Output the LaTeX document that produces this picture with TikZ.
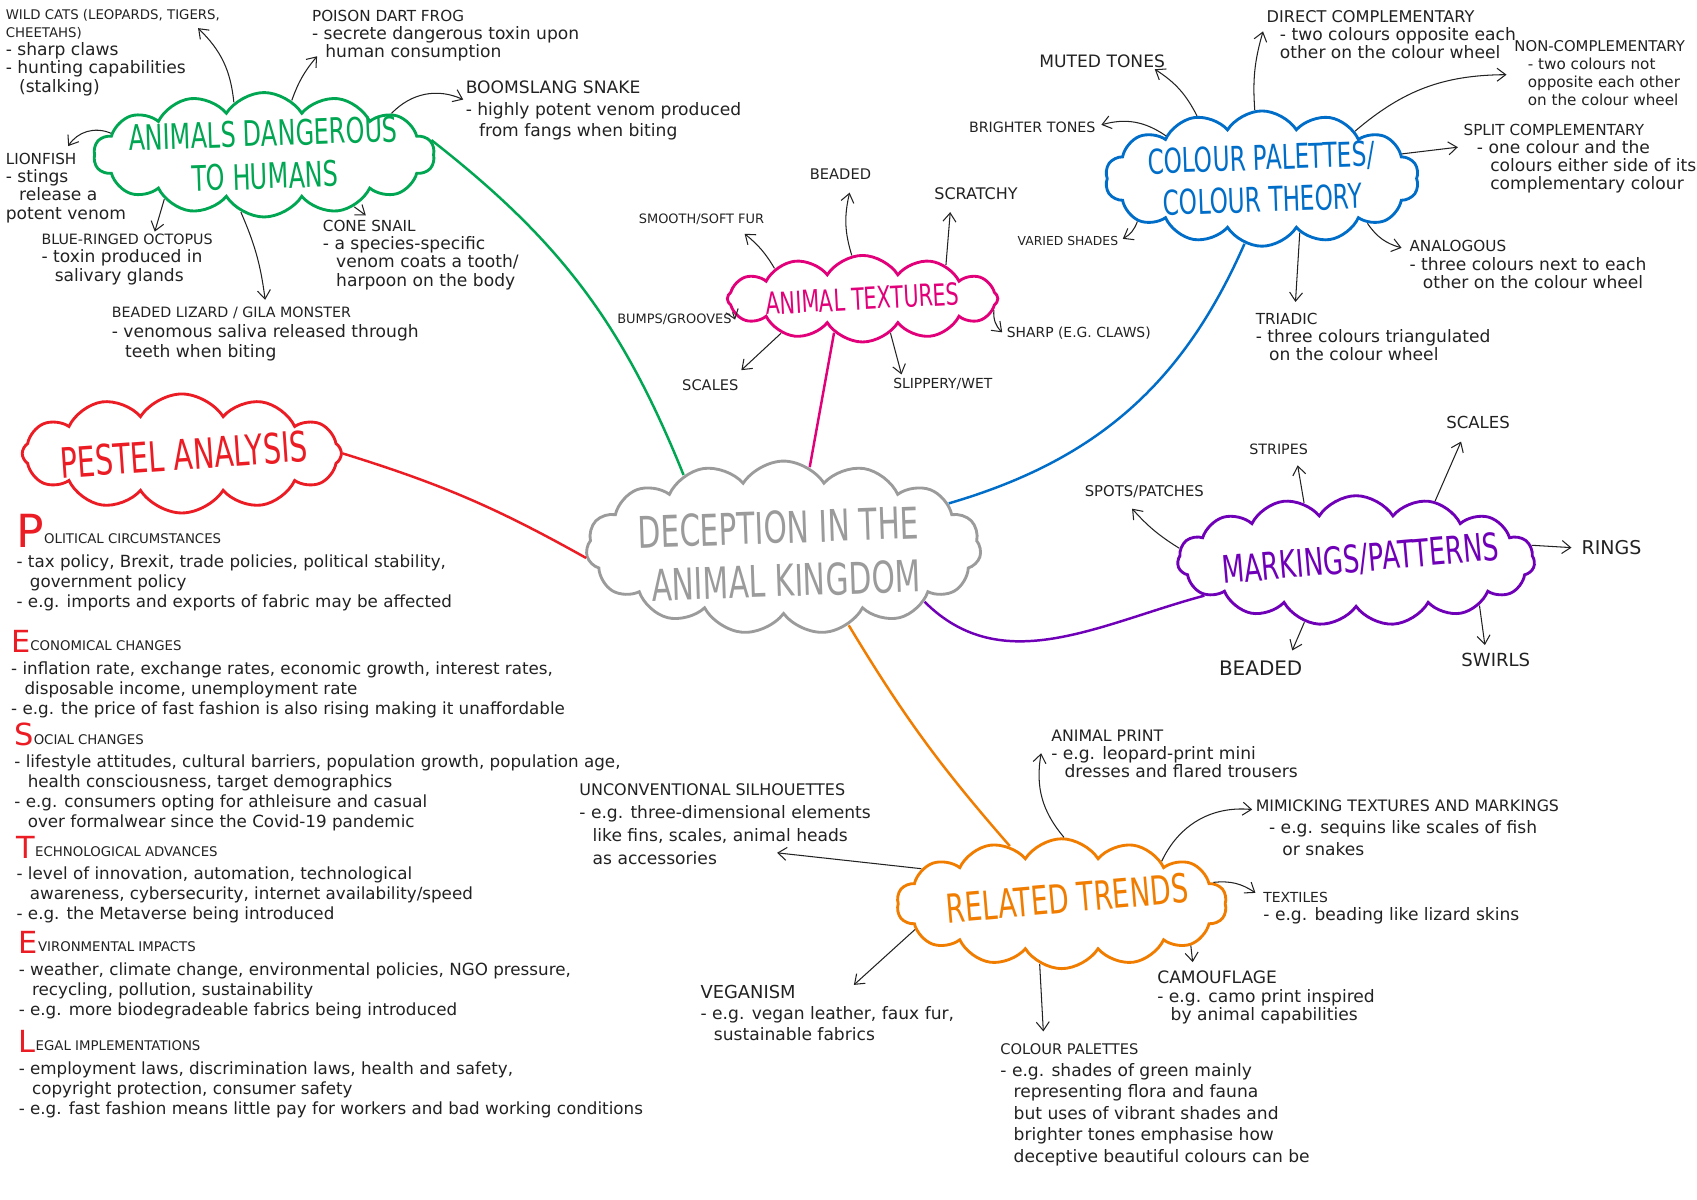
\documentclass[tikz,border=0pt]{standalone}
\usepackage{fontspec}
\setmainfont{DejaVu Sans}
\usepackage{tikz}
\usetikzlibrary{shapes.symbols, arrows.meta, calc}
\usepackage{xcolor}
\definecolor{inkgrey}{RGB}{34,34,34}
\definecolor{kingdomgrey}{RGB}{155,155,155}
\definecolor{dangergreen}{RGB}{0,166,81}
\definecolor{texturepink}{RGB}{226,0,122}
\definecolor{paletteblue}{RGB}{0,110,200}
\definecolor{markingpurple}{RGB}{112,0,184}
\definecolor{pestelred}{RGB}{236,28,36}
\definecolor{trendorange}{RGB}{240,125,0}

\newcommand{\hcap}[2][8]{{\fontsize{#1}{9.6}\selectfont #2}}
\newcommand{\ind}{\hspace*{7pt}}
\newcommand{\bigletter}[3]{\raisebox{-#2pt}{\color{pestelred}\fontsize{#1}{#1}\selectfont #3}}

\begin{document}
\begin{tikzpicture}[
  x=0.02cm, y=-0.02cm,
  bubble/.style={cloud, cloud puffs=14, cloud puff arc=115, cloud ignores aspect, draw=#1, line width=1.5pt, inner sep=0pt},
  cloudtext/.style n args={2}{rotate=#2, xscale=0.68, text=#1, align=center, inner sep=0pt},
  leaf/.style={anchor=north west, align=left, inner sep=0pt, text=inkgrey, font=\fontsize{9}{9.6}\selectfont},
  word/.style={anchor=north west, inner sep=0pt, text=inkgrey, font=\fontsize{#1}{#1}\selectfont},
  pestelblock/.style={anchor=north west, align=left, inner sep=0pt, text=inkgrey, font=\fontsize{8.8}{10.5}\selectfont},
  branch/.style={line width=1.3pt, draw=#1},
  twig/.style={-{Straight Barb[length=1.6mm, width=2.4mm]}, line width=0.55pt, inkgrey}
]
\useasboundingbox (0,0) rectangle (1568,1108);
\fill[white] (0,0) rectangle (1568,1108);

% Core Nodes
\node[bubble=kingdomgrey, cloud puffs=15, minimum width=7.3cm, minimum height=3.2cm] (deception) at (724,506) {};
\node[cloudtext={kingdomgrey}{2}, align=right, font=\fontsize{23}{28}\selectfont] (deceptionT) at ($(deception.center)+(-4,6)$) {DECEPTION IN THE\\ANIMAL KINGDOM};

\node[bubble=dangergreen, minimum width=6.3cm, minimum height=2.3cm] (danger) at (244,143) {};
\node[cloudtext={dangergreen}{2}, font=\fontsize{18.5}{22.5}\selectfont] (dangerT) at (danger.center) {ANIMALS DANGEROUS\\TO HUMANS};

\node[bubble=texturepink, cloud puffs=12, minimum width=5.0cm, minimum height=1.6cm] (textures) at (797,276) {};
\node[cloudtext={texturepink}{3}, font=\fontsize{16}{16}\selectfont] (texturesT) at (textures.center) {ANIMAL TEXTURES};

\node[bubble=paletteblue, minimum width=5.8cm, minimum height=2.5cm] (palettes) at (1166,165) {};
\node[cloudtext={paletteblue}{2}, font=\fontsize{18}{22}\selectfont] (palettesT) at (palettes.center) {COLOUR PALETTES/\\COLOUR THEORY};

\node[bubble=markingpurple, cloud puffs=15, minimum width=6.6cm, minimum height=2.4cm] (markings) at (1253,518) {};
\node[cloudtext={markingpurple}{5}, font=\fontsize{20}{20}\selectfont] (markingsT) at ($(markings.center)+(4,-1)$) {MARKINGS/PATTERNS};

\node[bubble=pestelred, cloud puffs=12, minimum width=5.9cm, minimum height=2.2cm] (pestel) at (168,419) {};
\node[cloudtext={pestelred}{4}, font=\fontsize{22}{22}\selectfont] (pestelT) at ($(pestel.center)+(2,1)$) {PESTEL ANALYSIS};

\node[bubble=trendorange, minimum width=6.1cm, minimum height=2.4cm] (trends) at (981,835) {};
\node[cloudtext={trendorange}{5}, font=\fontsize{21}{21}\selectfont] (trendsT) at ($(trends.center)+(5,-5)$) {RELATED TRENDS};

% Branch 1: Animals dangerous to humans
\node[leaf] (wildcats) at (5,8) {\hcap[7]{WILD CATS (LEOPARDS, TIGERS,}\\\hcap[7]{CHEETAHS)}\\- sharp claws\\- hunting capabilities\\\ind(stalking)};
\node[leaf] (poisonfrog) at (288,9) {\hcap{POISON DART FROG}\\- secrete dangerous toxin upon\\\ind human consumption};
\node[leaf, font=\fontsize{9}{11.5}\selectfont] (boomslang) at (430,74) {\hcap[9]{BOOMSLANG SNAKE}\\- highly potent venom produced\\\ind from fangs when biting};
\node[leaf] (lionfish) at (5,141) {\hcap{LIONFISH}\\- stings\\\ind release a\\potent venom};
\node[leaf] (octopus) at (38,216) {\hcap[7.5]{BLUE-RINGED OCTOPUS}\\- toxin produced in\\\ind salivary glands};
\node[leaf, font=\fontsize{9}{10.5}\selectfont] (gilamonster) at (103,283) {\hcap[7.5]{BEADED LIZARD / GILA MONSTER}\\- venomous saliva released through\\\ind teeth when biting};
\node[leaf] (conesnail) at (298,203) {\hcap{CONE SNAIL}\\- a species-specific\\\ind venom coats a tooth/\\\ind harpoon on the body};

% Branch 2: Animal textures
\node[word=7.7] (beadedT) at (748,156) {BEADED};
\node[word=6.8] (smoothfur) at (590,197) {SMOOTH/SOFT FUR};
\node[word=8.4] (scratchy) at (863,173) {SCRATCHY};
\node[word=6.8] (bumps) at (570,290) {BUMPS/GROOVES};
\node[word=7.7] (scalesT) at (630,350) {SCALES};
\node[word=7.3] (slippery) at (825,349) {SLIPPERY/WET};
\node[word=7.3] (sharp) at (930,302) {SHARP (E.G. CLAWS)};

% Branch 3: Colour palettes
\node[word=9] (mutedtones) at (960,50) {MUTED TONES};
\node[leaf] (direct) at (1170,9) {\hcap[8.5]{DIRECT COMPLEMENTARY}\\\ind- two colours opposite each\\\ind other on the colour wheel};
\node[leaf, font=\fontsize{8}{9.4}\selectfont] (noncomp) at (1399,37) {\hcap[7.8]{NON-COMPLEMENTARY}\\\ind- two colours not\\\ind opposite each other\\\ind on the colour wheel};
\node[word=7.5] (brighter) at (895,112) {BRIGHTER TONES};
\node[leaf] (split) at (1352,114) {\hcap{SPLIT COMPLEMENTARY}\\\ind- one colour and the\\\ind\ind colours either side of its\\\ind\ind complementary colour};
\node[word=6.5] (varied) at (940,218) {VARIED SHADES};
\node[leaf] (analogous) at (1302,222) {\hcap{ANALOGOUS}\\- three colours next to each\\\ind other on the colour wheel};
\node[leaf] (triadic) at (1160,289) {\hcap{TRIADIC}\\- three colours triangulated\\\ind on the colour wheel};

% Branch 4: Markings/patterns
\node[word=7.8] (spots) at (1002,448) {SPOTS/PATCHES};
\node[word=7.5] (stripes) at (1154,410) {STRIPES};
\node[word=8.7] (scalesM) at (1336,384) {SCALES};
\node[word=10] (rings) at (1461,499) {RINGS};
\node[word=10.5] (beadedM) at (1126,610) {BEADED};
\node[word=9.5] (swirls) at (1350,603) {SWIRLS};

% Branch 5: Related trends
\node[leaf] (animalprint) at (971,674) {\hcap[8.3]{ANIMAL PRINT}\\- e.g. leopard-print mini\\\ind dresses and flared trousers};
\node[leaf, font=\fontsize{9}{11.5}\selectfont] (mimicking) at (1160,739) {\hcap[8.3]{MIMICKING TEXTURES AND MARKINGS}\\\ind- e.g. sequins like scales of fish\\\ind\ind or snakes};
\node[leaf, font=\fontsize{9}{12}\selectfont] (uncon) at (535,724) {\hcap[8.4]{UNCONVENTIONAL SILHOUETTES}\\- e.g. three-dimensional elements\\\ind like fins, scales, animal heads\\\ind as accessories};
\node[leaf] (textiles) at (1167,824) {\hcap[7.3]{TEXTILES}\\- e.g. beading like lizard skins};
\node[leaf] (camouflage) at (1069,897) {\hcap[9]{CAMOUFLAGE}\\- e.g. camo print inspired\\\ind by animal capabilities};
\node[leaf, font=\fontsize{9}{11}\selectfont] (veganism) at (647,910) {\hcap[9.4]{VEGANISM}\\- e.g. vegan leather, faux fur,\\\ind sustainable fabrics};
\node[leaf, font=\fontsize{9}{11.3}\selectfont] (colourpal) at (924,964) {\hcap[7.7]{COLOUR PALETTES}\\- e.g. shades of green mainly\\\ind representing flora and fauna\\\ind but uses of vibrant shades and\\\ind brighter tones emphasise how\\\ind deceptive beautiful colours can be};

% Branch 6: PESTEL analysis
\node[pestelblock] (political) at (15,475) {\bigletter{24}{2}{P}\hcap[7]{OLITICAL CIRCUMSTANCES}\\[2pt]- tax policy, Brexit, trade policies, political stability,\\\ind government policy\\- e.g. imports and exports of fabric may be affected};
\node[pestelblock] (economical) at (10,582) {\bigletter{16}{1}{E}\hcap[7]{CONOMICAL CHANGES}\\[2pt]- inflation rate, exchange rates, economic growth, interest rates,\\\ind disposable income, unemployment rate\\- e.g. the price of fast fashion is also rising making it unaffordable};
\node[pestelblock] (social) at (13,668) {\bigletter{16}{1}{S}\hcap[7]{OCIAL CHANGES}\\[2pt]- lifestyle attitudes, cultural barriers, population growth, population age,\\\ind health consciousness, target demographics\\- e.g. consumers opting for athleisure and casual\\\ind over formalwear since the Covid-19 pandemic};
\node[pestelblock] (technological) at (15,772) {\bigletter{16}{1}{T}\hcap[7]{ECHNOLOGICAL ADVANCES}\\[2pt]- level of innovation, automation, technological\\\ind awareness, cybersecurity, internet availability/speed\\- e.g. the Metaverse being introduced};
\node[pestelblock] (environmental) at (17,860) {\bigletter{16}{1}{E}\hcap[7]{VIRONMENTAL IMPACTS}\\[2pt]- weather, climate change, environmental policies, NGO pressure,\\\ind recycling, pollution, sustainability\\- e.g. more biodegradeable fabrics being introduced};
\node[pestelblock] (legal) at (17,952) {\bigletter{16}{1}{L}\hcap[7]{EGAL IMPLEMENTATIONS}\\[2pt]- employment laws, discrimination laws, health and safety,\\\ind copyright protection, consumer safety\\- e.g. fast fashion means little pay for workers and bad working conditions};

% Main branches
\draw[branch=dangergreen] (danger.5) to[bend left=15] (deception.144);
\draw[branch=texturepink] (textures.-130) -- (deception.72);
\draw[branch=paletteblue] (palettes.-105) to[bend left=25] (deception.15);
\draw[branch=pestelred] (pestel.east) to[bend left=6] (deception.183);
\draw[branch=markingpurple] (deception.-21) to[out=-45, in=195] (markings.193);
\draw[branch=trendorange] (deception.-50) to[bend right=5] (trends.132);

% Arrows: animals dangerous to humans
\draw[twig] (danger.120) to[bend right=20] ($(wildcats.north west)+(178,18)$);
\draw[twig] (danger.63) to[bend left=10] ($(poisonfrog.north west)+(5,43)$);
\draw[twig] (danger.18) to[bend left=35] ($(boomslang.north west)+(-2,18)$);
\draw[twig] (danger.172) to[bend right=40] ($(lionfish.north west)+(58,-6)$);
\draw[twig] (danger.-156) -- ($(octopus.north west)+(105,-2)$);
\draw[twig] (danger.-112) to[bend left=8] ($(gilamonster.north west)+(142,-6)$);
\draw[twig] (danger.-30) -- ($(conesnail.north west)+(40,-4)$);

% Arrows: animal textures
\draw[twig] (textures.104) to[bend left=15] ($(beadedT.north west)+(37,22)$);
\draw[twig] (textures.161) to[bend right=10] ($(smoothfur.north west)+(98,19)$);
\draw[twig] (textures.22) -- ($(scratchy.north west)+(15,23)$);
\draw[twig] (textures.186) -- ($(bumps.east)+(3,0)$);
\draw[twig] (textures.-157) -- ($(scalesT.north west)+(55,-8)$);
\draw[twig] (textures.-51) -- ($(slippery.north west)+(8,-3)$);
\draw[twig] (textures.-5) to[bend right=25] ($(sharp.west)+(-4,-1)$);

% Arrows: colour palettes
\draw[twig] (palettes.136) to[bend right=15] ($(mutedtones.north west)+(107,14)$);
\draw[twig] (palettes.96) to[bend left=10] ($(direct.north west)+(-3,20)$);
\draw[twig] (palettes.27) to[bend left=20] ($(noncomp.north west)+(-7,32)$);
\draw[twig] (palettes.156) to[bend right=25] ($(brighter.east)+(5,-2)$);
\draw[twig] (palettes.10) -- ($(split.north west)+(-5,22)$);
\draw[twig] (palettes.-161) to[bend left=20] ($(varied.east)+(4,-2)$);
\draw[twig] (palettes.-23) to[bend right=20] ($(analogous.north west)+(-7,7)$);
\draw[twig] (palettes.-55) -- ($(triadic.north west)+(37,-10)$);

% Arrows: markings/patterns
\draw[twig] (markings.176) to[bend left=8] ($(spots.north west)+(44,22)$);
\draw[twig] (markings.132) -- ($(stripes.north west)+(45,20)$);
\draw[twig] (markings.37) -- ($(scalesM.north west)+(14,24)$);
\draw[twig] (markings.5) -- ($(rings.west)+(-9,0)$);
\draw[twig] (markings.-130) -- ($(beadedM.north west)+(68,-9)$);
\draw[twig] (markings.-20) -- ($(swirls.north west)+(22,-7)$);

% Arrows: related trends
\draw[twig] (trends.88) to[bend left=25] ($(animalprint.north west)+(-9,22)$);
\draw[twig] (trends.23) to[bend left=35] ($(mimicking.north west)+(-3,9)$);
\draw[twig] (trends.166) -- ($(uncon.north west)+(183,64)$);
\draw[twig] (trends.8) to[bend left=20] ($(textiles.north west)+(-7,1)$);
\draw[twig] (trends.-18) -- ($(camouflage.north west)+(33,-8)$);
\draw[twig] (trends.-170) -- ($(veganism.north west)+(142,0)$);
\draw[twig] (trends.-110) -- ($(colourpal.north west)+(40,-11)$);

\end{tikzpicture}
\end{document}
